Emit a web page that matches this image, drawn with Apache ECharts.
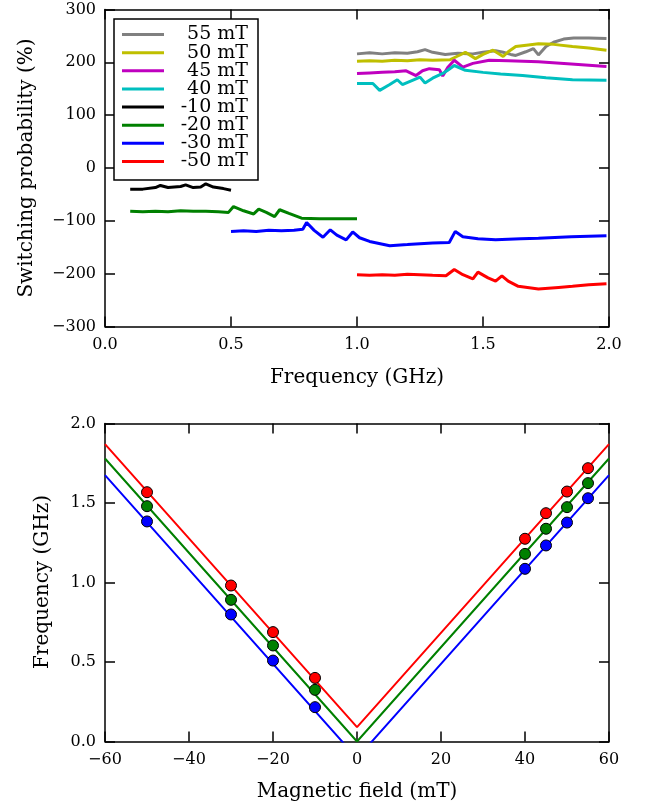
<!DOCTYPE html>
<html><head><meta charset="utf-8">
<script src="https://cdn.jsdelivr.net/npm/echarts@6/dist/echarts.min.js"></script>
<style>html,body{margin:0;padding:0;background:#fff}#c{width:648px;height:807px}</style>
</head><body><div id="c"></div>
<script>
// ---- Top panel data: [frequency GHz, switching probability %] ----
const s55 = [[1.00,216],[1.05,218],[1.10,216],[1.15,218],[1.20,217],[1.24,220],[1.27,224],[1.30,219],[1.35,215],[1.40,217],[1.46,216],[1.50,219],[1.55,222],[1.58,219],[1.61,215],[1.63,213],[1.67,220],[1.70,226],[1.72,214],[1.75,230],[1.78,238],[1.82,244],[1.86,246],[1.92,246],[1.99,245]];
const s50 = [[1.00,202],[1.05,203],[1.10,202],[1.15,204],[1.20,203],[1.25,205],[1.30,204],[1.37,205],[1.40,212],[1.43,219],[1.47,207],[1.50,215],[1.54,223],[1.58,211],[1.60,220],[1.63,230],[1.68,233],[1.72,235],[1.78,234],[1.855,230],[1.92,227],[1.99,223]];
const s45 = [[1.00,179],[1.05,180],[1.10,181],[1.15,182],[1.195,184],[1.234,175],[1.26,184],[1.287,188],[1.327,186],[1.34,174],[1.36,190],[1.386,204],[1.42,191],[1.46,198],[1.525,204],[1.6,203],[1.72,201],[1.85,197],[1.99,192]];
const s40 = [[1.00,160],[1.063,160],[1.09,147],[1.13,158],[1.16,167],[1.18,158],[1.22,166],[1.25,172],[1.27,161],[1.30,170],[1.34,179],[1.36,185],[1.386,194],[1.43,185],[1.5,181],[1.57,178],[1.657,175],[1.75,171],[1.855,167],[1.99,166]];
const sm10 = [[0.10,-40],[0.15,-40],[0.20,-37],[0.22,-33],[0.25,-37],[0.30,-35],[0.32,-32],[0.35,-37],[0.38,-36],[0.40,-30],[0.43,-36],[0.47,-39],[0.50,-42]];
const sm20 = [[0.10,-82],[0.15,-83],[0.20,-82],[0.25,-83],[0.30,-81],[0.35,-82],[0.40,-82],[0.45,-83],[0.49,-84],[0.51,-73],[0.55,-81],[0.59,-87],[0.61,-78],[0.64,-84],[0.673,-92],[0.693,-79],[0.73,-86],[0.78,-95],[0.85,-96],[0.92,-96],[1.00,-96]];
const sm30 = [[0.50,-120],[0.55,-119],[0.60,-120],[0.65,-118],[0.70,-119],[0.75,-118],[0.785,-116],[0.80,-103],[0.83,-118],[0.865,-131],[0.894,-117],[0.92,-127],[0.957,-136],[0.983,-121],[1.01,-132],[1.05,-139],[1.13,-147],[1.2,-145],[1.3,-142],[1.366,-141],[1.39,-120],[1.42,-130],[1.48,-134],[1.55,-136],[1.65,-134],[1.72,-133],[1.85,-130],[1.99,-128]];
const sm50 = [[1.00,-202],[1.05,-203],[1.10,-202],[1.15,-203],[1.20,-201],[1.25,-202],[1.30,-203],[1.353,-204],[1.386,-192],[1.42,-202],[1.46,-210],[1.48,-197],[1.52,-208],[1.55,-214],[1.575,-204],[1.60,-214],[1.64,-224],[1.72,-229],[1.80,-226],[1.855,-224],[1.92,-221],[1.99,-219]];
const topNames = ['55 mT','50 mT','45 mT','40 mT','-10 mT','-20 mT','-30 mT','-50 mT'];
const topColors = ['#808080','#bfbf00','#bf00bf','#00bfbf','#000000','#008000','#0000ff','#ff0000'];
const topData = [s55, s50, s45, s40, sm10, sm20, sm30, sm50];

// ---- Bottom panel data ----
const fields = [-50,-30,-20,-10,40,45,50,55];
const fRed   = [1.568,0.981,0.688,0.400,1.275,1.436,1.572,1.719];
const fGreen = [1.480,0.891,0.604,0.325,1.180,1.338,1.474,1.625];
const fBlue  = [1.384,0.799,0.509,0.216,1.086,1.233,1.377,1.530];
const lineRed   = [[-60,1.87],[0,0.09],[60,1.87]];
const lineGreen = [[-60,1.78],[0,0.0],[60,1.78]];
const lineBlue  = [[-60,1.675],[0,-0.105],[60,1.675]];

const FONT = 'DejaVu Serif';
const axLine = () => ({show:true, onZero:false, lineStyle:{color:'#000', width:1.5}});
const tick = () => ({show:true, inside:true, length:10, lineStyle:{color:'#000', width:1.5}});
const lab = () => ({color:'#000', fontFamily:FONT, fontSize:16});
const minus = v => String(v).replace('-', '\u2212');

const series = [];
topData.forEach((d,i)=>{
  series.push({type:'line', name:topNames[i], data:d, xAxisIndex:0, yAxisIndex:0,
    showSymbol:false, symbol:'none', lineStyle:{color:topColors[i], width:3}, itemStyle:{color:topColors[i]}, z:2});
});
[[lineRed,'#ff0000'],[lineGreen,'#008000'],[lineBlue,'#0000ff']].forEach(([d,c])=>{
  series.push({type:'line', data:d, xAxisIndex:2, yAxisIndex:2, symbol:'none', clip:true,
    lineStyle:{color:c, width:2}, z:2});
});
[[fRed,'#ff0000'],[fGreen,'#008000'],[fBlue,'#0000ff']].forEach(([v,c])=>{
  series.push({type:'scatter', data:fields.map((f,k)=>[f,v[k]]), xAxisIndex:2, yAxisIndex:2,
    symbolSize:11, itemStyle:{color:c, borderColor:'#000', borderWidth:1, opacity:1}, z:5});
});

function mkX(grid, min, max, interval, fmt) {
  return [
    {gridIndex:grid, type:'value', position:'bottom', min:min, max:max, interval:interval, axisLine:axLine(), axisTick:tick(),
     splitLine:{show:false}, axisLabel:Object.assign({margin:10, formatter:fmt}, lab())},
    {gridIndex:grid, type:'value', position:'top', min:min, max:max, interval:interval, axisLine:axLine(), axisTick:tick(),
     splitLine:{show:false}, axisLabel:{show:false}}
  ];
}
function mkY(grid, min, max, interval, fmt) {
  return [
    {gridIndex:grid, type:'value', position:'left', min:min, max:max, interval:interval, axisLine:axLine(), axisTick:tick(),
     splitLine:{show:false}, axisLabel:Object.assign({margin:9, formatter:fmt}, lab())},
    {gridIndex:grid, type:'value', position:'right', min:min, max:max, interval:interval, axisLine:axLine(), axisTick:tick(),
     splitLine:{show:false}, axisLabel:{show:false}}
  ];
}
function title(text, x, y, rot) {
  return {type:'text', x:x, y:y, rotation:rot || 0, silent:true,
    style:{text:text, font:'20px "DejaVu Serif"', fill:'#000', textAlign:'center', textVerticalAlign:'middle'}};
}

const option = {
  animation:false,
  grid:[
    {left:105, top:9.5, width:504, height:317},
    {left:105, top:423.5, width:504, height:318}
  ],
  legend:{
    data:topNames, orient:'vertical', left:114, top:19,
    backgroundColor:'#fff', borderColor:'#000', borderWidth:1.5, borderRadius:0,
    padding:[6,10,9,8], itemGap:-0.86, itemWidth:42, itemHeight:3, icon:'rect',
    formatter: n => '{a|' + n + '}',
    textStyle:{rich:{a:{fontFamily:FONT, fontSize:19, lineHeight:18, width:79, align:'right', color:'#000'}}}
  },
  graphic:[
    title('Frequency (GHz)', 357, 378),
    title('Switching probability (%)', 27, 168, Math.PI/2),
    title('Magnetic field (mT)', 357, 792),
    title('Frequency (GHz)', 43, 582, Math.PI/2)
  ],
  xAxis: mkX(0, 0, 2, 0.5, v=>v.toFixed(1)).concat(mkX(1, -60, 60, 20, minus)),
  yAxis: mkY(0, -300, 300, 100, minus).concat(mkY(1, 0, 2, 0.5, v=>v.toFixed(1))),
  series:series
};
echarts.init(document.getElementById('c')).setOption(option);
</script></body></html>
